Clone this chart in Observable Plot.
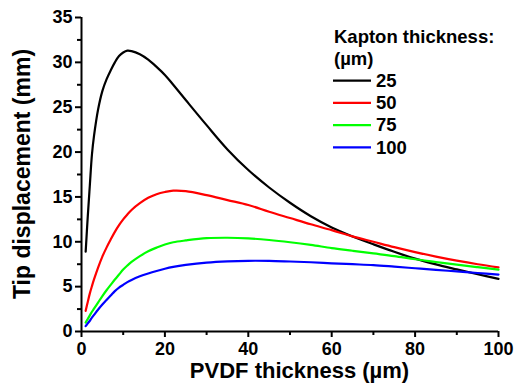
<!DOCTYPE html>
<html><head><meta charset="utf-8">
<script src="https://cdn.jsdelivr.net/npm/d3@7"></script>
<script src="https://cdn.jsdelivr.net/npm/@observablehq/plot@0.6"></script>
<style>
html,body{margin:0;padding:0;background:#fff;}
#chart svg{display:block;}
</style></head><body><div id="chart"></div>
<script>
// PVDF thickness (µm)
const pvdf = [1, 1.5, 2, 2.5, 3, 4, 5, 6, 7, 8, 9, 10, 11, 12, 14, 16, 18, 20, 22, 25, 30, 35, 40, 45, 50, 55, 60, 65, 70, 75, 80, 85, 90, 95, 100];
// Tip displacement (mm) for each Kapton thickness
const disp25  = [8.9, 12.8, 16.3, 19.7, 21.8, 24.8, 26.8, 28.1, 29.1, 30.0, 30.7, 31.1, 31.3, 31.25, 30.9, 30.3, 29.5, 28.6, 27.5, 25.8, 23.0, 20.3, 18.0, 16.05, 14.35, 12.85, 11.6, 10.6, 9.72, 8.88, 8.12, 7.48, 6.92, 6.38, 5.87];
const disp50  = [2.3, 3.3, 4.25, 5.05, 5.8, 7.15, 8.35, 9.35, 10.25, 11.1, 11.85, 12.5, 13.05, 13.55, 14.3, 14.9, 15.3, 15.55, 15.7, 15.65, 15.2, 14.65, 14.1, 13.35, 12.65, 11.95, 11.3, 10.6, 10.0, 9.4, 8.85, 8.35, 7.9, 7.5, 7.15];
const disp75  = [1.0, 1.4, 1.8, 2.2, 2.55, 3.25, 3.95, 4.6, 5.2, 5.8, 6.35, 6.9, 7.35, 7.75, 8.4, 8.95, 9.35, 9.7, 9.95, 10.15, 10.4, 10.45, 10.38, 10.2, 9.95, 9.65, 9.3, 9.0, 8.7, 8.4, 8.05, 7.75, 7.45, 7.17, 6.9];
const disp100 = [0.6, 0.9, 1.2, 1.55, 1.85, 2.45, 3.0, 3.5, 4.0, 4.5, 4.9, 5.2, 5.5, 5.75, 6.15, 6.47, 6.75, 7.0, 7.2, 7.42, 7.68, 7.82, 7.88, 7.87, 7.8, 7.72, 7.6, 7.5, 7.4, 7.23, 7.05, 6.87, 6.7, 6.52, 6.35];
const kapton = ["25", "50", "75", "100"];
const colors = ["#000000", "#ff0000", "#00ff00", "#0000ff"];
const xTicks = [0, 20, 40, 60, 80, 100];
const xMinor = [10, 30, 50, 70, 90];
const yTicks = [0, 5, 10, 15, 20, 25, 30, 35];
const yMinor = [2.5, 7.5, 12.5, 17.5, 22.5, 27.5, 32.5];
const xTitle = "PVDF thickness (\u00b5m)";
const yTitle = "Tip displacement (mm)";
const legendTitle = ["Kapton thickness:", "(\u00b5m)"];

const series = [disp25, disp50, disp75, disp100];
const rows = [];
series.forEach((arr, i) => arr.forEach((v, j) => rows.push({x: pvdf[j], y: v, k: kapton[i]})));

const font = "'Liberation Sans', Arial, Helvetica, sans-serif";
const chart = Plot.plot({
  width: 514, height: 387,
  marginLeft: 81, marginRight: 16, marginTop: 17, marginBottom: 56,
  style: {fontFamily: font, fontWeight: "bold", fontSize: "18px", color: "#000", background: "#fff", overflow: "visible"},
  x: {domain: [0, 100]},
  y: {domain: [0, 35]},
  color: {domain: kapton, range: colors},
  marks: [
    Plot.axisX({ticks: xTicks, tickSize: 6, tickPadding: 5, strokeWidth: 2, label: null, tickFormat: d => String(d)}),
    Plot.axisX({ticks: xMinor, tickSize: 4, strokeWidth: 2, text: null, label: null}),
    Plot.axisY({ticks: yTicks, tickSize: 6, tickPadding: 3, strokeWidth: 2, label: null, tickFormat: d => String(d)}),
    Plot.axisY({ticks: yMinor, tickSize: 4, strokeWidth: 2, text: null, label: null}),
    Plot.ruleX([0], {strokeWidth: 2}),
    Plot.ruleY([0], {strokeWidth: 2}),
    Plot.line(rows, {x: "x", y: "y", z: "k", stroke: "k", strokeWidth: 2.2, curve: "catmull-rom"})
  ]
});
document.getElementById("chart").appendChild(chart);

const svg = d3.select(chart);
const xs = chart.scale("x"), ys = chart.scale("y");
const xc = (xs.range[0] + xs.range[1]) / 2;
const yc = (ys.range[0] + ys.range[1]) / 2;

svg.append("text").text(xTitle)
  .attr("x", xc + 10).attr("y", 378)
  .attr("text-anchor", "middle").attr("font-size", 22).attr("font-weight", "bold").attr("fill", "#000");
svg.append("text").text(yTitle)
  .attr("transform", `translate(30,${yc}) rotate(-90)`)
  .attr("text-anchor", "middle").attr("font-size", 23).attr("font-weight", "bold").attr("fill", "#000");

const lg = svg.append("g").attr("font-size", 18.5).attr("font-weight", "bold").attr("fill", "#000").attr("text-anchor", "start");
lg.append("text").text(legendTitle[0]).attr("x", 334).attr("y", 42.7);
lg.append("text").text(legendTitle[1]).attr("x", 334).attr("y", 65);
kapton.forEach((k, i) => {
  const y = 80.7 + i * 22.2;
  lg.append("line").attr("x1", 333).attr("x2", 371).attr("y1", y).attr("y2", y)
    .attr("stroke", colors[i]).attr("stroke-width", 2.2);
  lg.append("text").text(k).attr("x", 376).attr("y", y + 6.3);
});
</script>
</body></html>
